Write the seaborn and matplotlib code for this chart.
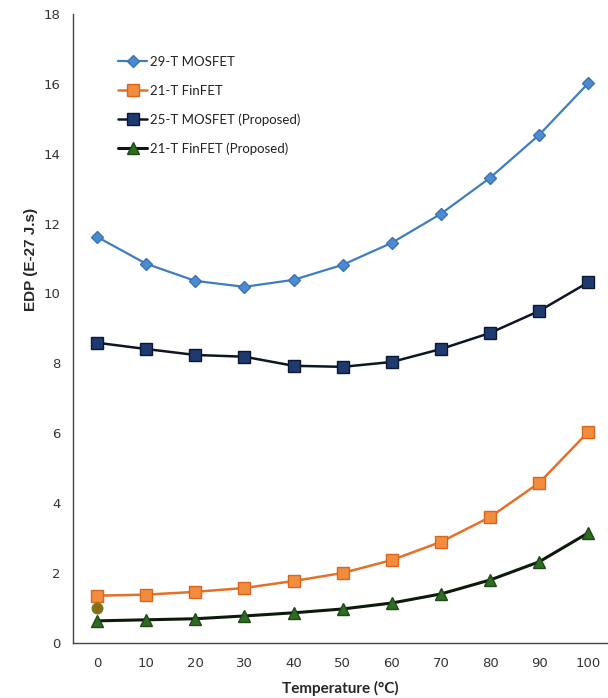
import matplotlib
matplotlib.use("Agg")
import matplotlib.pyplot as plt
import seaborn as sns
import pandas as pd

temperature = [0, 10, 20, 30, 40, 50, 60, 70, 80, 90, 100]
mosfet_29t = [11.62, 10.85, 10.36, 10.19, 10.39, 10.82, 11.45, 12.28, 13.31, 14.54, 16.02]
finfet_21t = [1.35, 1.38, 1.46, 1.57, 1.77, 2.00, 2.37, 2.89, 3.60, 4.58, 6.04]
mosfet_25t_prop = [8.59, 8.41, 8.24, 8.19, 7.93, 7.90, 8.04, 8.41, 8.87, 9.50, 10.32]
finfet_21t_prop = [0.63, 0.66, 0.69, 0.77, 0.86, 0.97, 1.14, 1.40, 1.80, 2.32, 3.15]
stray_x = [0]
stray_y = [1.0]

series_names = ["29-T MOSFET", "21-T FinFET", "25-T MOSFET (Proposed)", "21-T FinFET (Proposed)"]
series_values = [mosfet_29t, finfet_21t, mosfet_25t_prop, finfet_21t_prop]

df = pd.concat(
    [pd.DataFrame({"Temperature": temperature, "EDP": v, "Series": n})
     for n, v in zip(series_names, series_values)],
    ignore_index=True,
)

sns.set_style("white")
plt.rcParams["font.family"] = ["Lato", "DejaVu Sans"]

fig = plt.figure(figsize=(6.08, 6.98), dpi=100)
ax = fig.add_axes([0.12, 0.079, 0.88, 0.901])

styles = {
    "29-T MOSFET": dict(color="#3F7DC1", marker="D", ms=6, mfc="#4C8BCF", mec="#3A74B5", lw=1.6),
    "21-T FinFET": dict(color="#E4702A", marker="s", ms=8, mfc="#F28C3E", mec="#D9651F", lw=1.8),
    "25-T MOSFET (Proposed)": dict(color="#0E1626", marker="s", ms=8, mfc="#1E3A6E", mec="#0B1833", lw=1.8),
    "21-T FinFET (Proposed)": dict(color="#0C1A0C", marker="^", ms=8, mfc="#2F6B22", mec="#1E4A16", lw=2.2),
}

for name in series_names:
    st = styles[name]
    sub = df[df["Series"] == name]
    sns.lineplot(data=sub, x="Temperature", y="EDP", ax=ax, label=name,
                 color=st["color"], linewidth=st["lw"], marker=st["marker"],
                 markersize=st["ms"], markerfacecolor=st["mfc"],
                 markeredgecolor=st["mec"], markeredgewidth=1.0)

ax.scatter(stray_x, stray_y, s=55, color="#8A6A12", edgecolor="#6F7F2A",
           linewidth=1.2, zorder=5)

ax.set_xlim(-4.9, 104)
ax.set_ylim(0, 18)
ax.set_xticks(temperature)
ax.set_yticks(range(0, 19, 2))
ax.tick_params(axis="both", length=0, labelsize=9.5, labelcolor="#333333")
ax.tick_params(axis="y", pad=9)
ax.tick_params(axis="x", pad=10)
for lab in ax.get_xticklabels() + ax.get_yticklabels():
    lab.set_family(["DejaVu Sans"])

ax.set_xlabel("Temperature (°C)", fontsize=11, fontweight="bold",
              family=["Lato", "DejaVu Sans"], labelpad=8)
ax.set_ylabel("EDP (E-27 J.s)", fontsize=11, fontweight="bold",
              family=["Liberation Sans", "DejaVu Sans"])
ax.yaxis.set_label_coords(-0.066, 0.61)

for side in ["top", "right"]:
    ax.spines[side].set_visible(False)
for side in ["left", "bottom"]:
    ax.spines[side].set_color("#444444")
    ax.spines[side].set_linewidth(1.0)

leg = ax.legend(loc="upper left", bbox_to_anchor=(0.062, 0.952), frameon=False,
                fontsize=9.5, labelspacing=1.25, handlelength=2.2,
                handletextpad=0.25)
for t in leg.get_texts():
    t.set_color("#222222")

fig.savefig("out.png", dpi=100)
